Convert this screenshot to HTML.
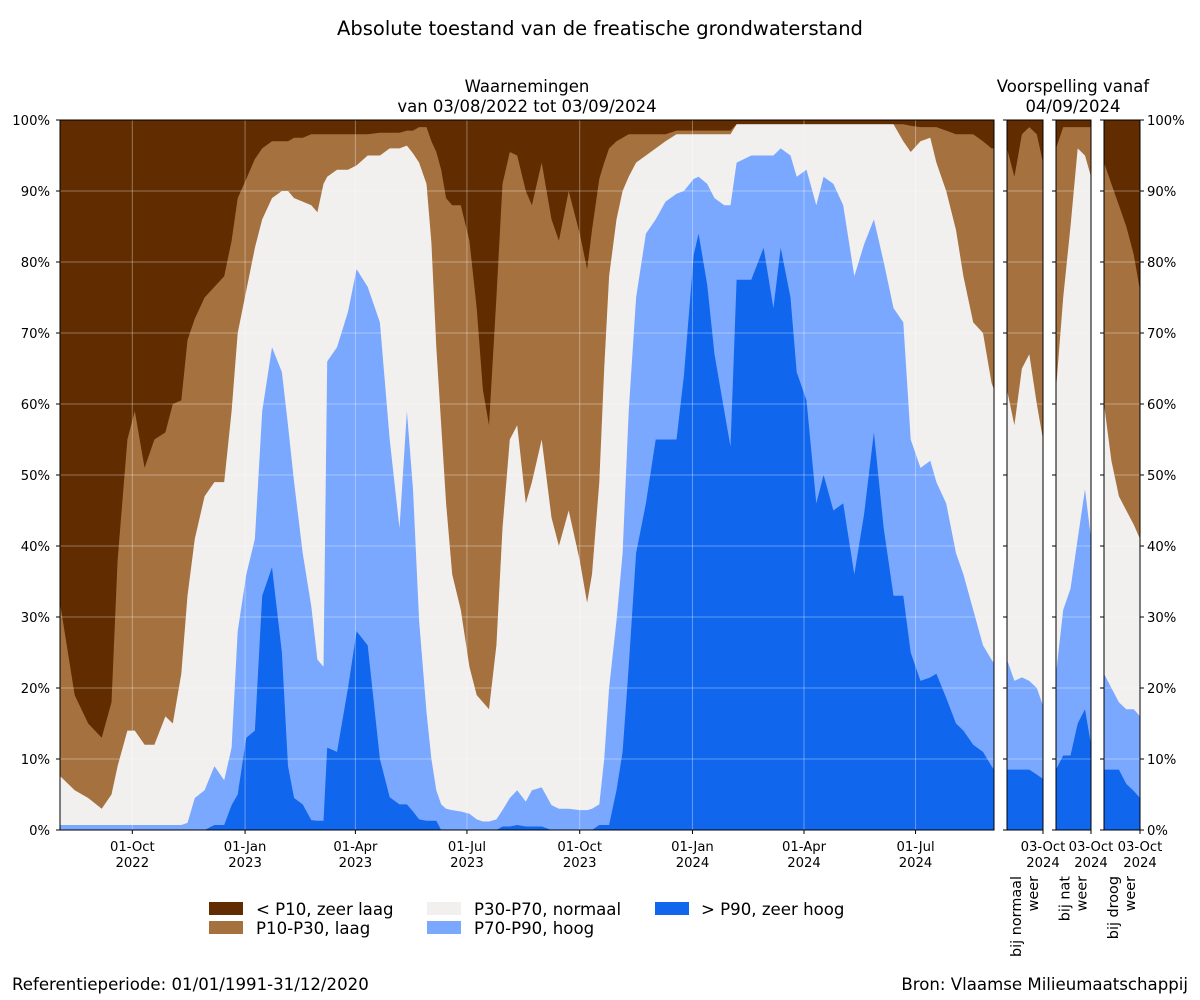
<!DOCTYPE html>
<html><head><meta charset="utf-8"><style>
body{margin:0;background:#fff;}
svg{display:block;font-family:"DejaVu Sans","Liberation Sans",sans-serif;}
</style></head><body>
<svg id="chart" width="1200" height="1000" viewBox="0 0 1200 1000" xmlns="http://www.w3.org/2000/svg">
<text x="600" y="35" font-size="19.5" text-anchor="middle">Absolute toestand van de freatische grondwaterstand</text>
<text x="527" y="92" font-size="16.5" text-anchor="middle">Waarnemingen</text>
<text x="527" y="112" font-size="16.5" text-anchor="middle">van 03/08/2022 tot 03/09/2024</text>
<text x="1073" y="92" font-size="16.5" text-anchor="middle">Voorspelling vanaf</text>
<text x="1073" y="112" font-size="16.5" text-anchor="middle">04/09/2024</text>
<g id="main"></g>
<g id="fc"></g>
<g font-size="16.6">
<rect x="209" y="902" width="34" height="13" fill="#602c00"/>
<text x="256" y="915">&lt; P10, zeer laag</text>
<rect x="209" y="921" width="34" height="13" fill="#a5713f"/>
<text x="256" y="934">P10-P30, laag</text>
<rect x="427" y="902" width="34" height="13" fill="#f2f0ee"/>
<text x="474" y="915">P30-P70, normaal</text>
<rect x="427" y="921" width="34" height="13" fill="#7aa8ff"/>
<text x="474" y="934">P70-P90, hoog</text>
<rect x="655" y="902" width="34" height="13" fill="#1166ee"/>
<text x="701" y="915">&gt; P90, zeer hoog</text>
</g>
<text x="12" y="990" font-size="16.6">Referentieperiode: 01/01/1991-31/12/2020</text>
<text x="1188" y="990" font-size="16.6" text-anchor="end">Bron: Vlaamse Milieumaatschappij</text>
</svg>
<script>
const days=[0,12,23,34,42,47,55,61,69,77,86,92,99,104,110,118,126,134,140,145,152,159,165,173,181,186,191,198,205,210,215,218,226,235,242,251,261,269,277,283,288,293,299,303,307,311,315,320,327,334,340,345,350,356,361,367,373,380,385,393,401,407,415,424,430,434,440,444,448,454,459,464,470,478,486,494,503,509,517,521,528,534,542,547,552,564,574,582,588,596,601,609,617,623,631,639,648,656,664,672,680,688,694,702,710,715,723,731,737,745,753,760,762];
const p90=[0,0,0,0,0,0,0,0,0,0,0,0,0,0,0,0,0.7,0.7,3.5,5,13,14,33,37,25,9,4.5,3.6,1.4,1.3,1.3,11.6,11,20,28,26,10,4.6,3.6,3.6,2.6,1.5,1.3,1.3,1.3,0,0,0,0,0,0,0,0,0,0.5,0.5,0.7,0.5,0.5,0.5,0,0,0,0,0,0,0.7,0.7,0.7,5.6,11,23,39,46,55,55,55,64,81,84,76.8,67,59,54,77.5,77.5,82,73.5,82,75,64.5,60.5,46,50,45,46,36,44.5,56,42.5,33,33,25,21,21.5,22,18.6,15,14,12,11,9,8.5];
const p70=[0.7,0.7,0.7,0.7,0.7,0.7,0.7,0.7,0.7,0.7,0.7,0.7,0.7,1,4.5,5.6,9,7,11.6,28,36,41,59,68,64.5,57,49,39,31.5,24,23,66,68,73,79,76.5,71.5,55,42.5,59,48,29.5,16.6,10,5.6,3.6,3,2.8,2.6,2.3,1.5,1.2,1.2,1.5,2.8,4.5,5.6,4,5.6,6,3.5,3,3,2.8,2.8,3,3.6,10,20,29.5,39,59,75,84,86,88.5,89.6,90,91.7,92,91,89,88,88,94,95,95,95,96,95,92,93,88,92,91,88,78,82.5,86,80,73.5,71.5,55,51,52,49,46,39,36,31,26,24,23.5];
const p30=[7.6,5.6,4.5,3,5,9,14,14,12,12,16,15,22,33,41,47,49,49,59,70,76,82,86,89,90,90,89,88.5,88,87,91,92,93,93,93.6,95,95,96,96,96.4,95.3,94,91,82.7,68,57,46,36,31,23,19,18,17,26,42.5,55,57,46,49,55,44,40,45,38,32,36,49,65,78,86,90,92,94,95,96,97,98,98,98,98,98,98,98,98,99.4,99.4,99.4,99.4,99.4,99.4,99.4,99.4,99.4,99.4,99.4,99.4,99.4,99.4,99.4,99.4,99.4,97,95.5,97,97.5,94,90,84.5,78,71.5,70,63,62];
const p10=[32,19,15,13,18,38,55,59,51,55,56,60,60.5,69,72,75,76.5,78,83,89,91.7,94.5,96,97,97,97,97.5,97.5,98,98,98,98,98,98,98,98,98.2,98.2,98.2,98.5,98.5,99,99,97,95.5,93,89,88,88,83,73.5,62,57,75,91,95.5,95,90,88,94,86,83,90,84,79,84.5,91.7,94,96,97,97.5,98,98,98,98,98,98.5,98.5,98.5,98.5,98.5,98.5,98.5,98.5,99.4,99.4,99.4,99.4,99.4,99.4,99.4,99.4,99.4,99.4,99.4,99.4,99.4,99.4,99.4,99.4,99.4,99.4,99.2,99,99,99,98.5,98,98,98,97,96,96];
const xTickDays=[59,151,241,332,424,516,607,698];
const xTickLabels=[["01-Oct","2022"],["01-Jan","2023"],["01-Apr","2023"],["01-Jul","2023"],["01-Oct","2023"],["01-Jan","2024"],["01-Apr","2024"],["01-Jul","2024"]];
const yTicks=[0,10,20,30,40,50,60,70,80,90,100];
// forecasts
const fcDays=[0,6,12,18,24,29];
const fcNames=["bij normaal weer","bij nat weer","bij droog weer"];
const fcP90=[[8.5,8.5,8.5,8.5,7.8,7.2],[8.5,10.5,10.5,15,17,12],[8.5,8.5,8.5,6.5,5.5,4.5]];
const fcP70=[[24,21,21.5,21,20,17.5],[22,31,34,41,48,41],[22,20,18,17,17,16]];
const fcP30=[[62,57,65,67,60,55],[62,75,85,96,95,92],[60,52,47,45,43,41]];
const fcP10=[[96,92,98,99,98,94],[96,99,99,99,99,99],[94,91,88,85,81,76]];

const NS="http://www.w3.org/2000/svg";
const Y0=830,Y1=120;
const yS=v=>Y0-(Y1-Y0)*-v/100;
function mk(tag,attrs,parent){const e=document.createElementNS(NS,tag);for(const k in attrs)e.setAttribute(k,attrs[k]);parent.appendChild(e);return e;}
const COLORS=["#602c00","#a5713f","#f2f0ee","#7aa8ff","#1166ee"];
const NAMES=["zeer-laag-area","laag-area","normaal-area","hoog-area","zeer-hoog-area"];
function drawPanel(g,x0,x1,dmax,ds,series,gridX,prefix){
  const xS=d=>x0+(x1-x0)*d/dmax;
  const bg=mk('rect',{x:x0,y:Y1,width:x1-x0,height:Y0-Y1,fill:COLORS[0]},g);
  
  
  series.forEach((s,i)=>{
    let d='M'+xS(ds[0])+','+Y0;
    for(let j=0;j<ds.length;j++){d+=' L'+xS(ds[j]).toFixed(1)+','+yS(s[j]).toFixed(1);}
    d+=' L'+xS(ds[ds.length-1])+','+Y0+' Z';
    const p=mk('path',{d:d,fill:COLORS[i+1]},g);
    
    
  });
  yTicks.forEach(t=>{if(t>0&&t<100){const l=mk('line',{x1:x0,x2:x1,y1:yS(t),y2:yS(t),stroke:'#fff','stroke-opacity':0.35,'stroke-width':1},g);
    }});
  gridX.forEach(d=>{const l=mk('line',{x1:xS(d),x2:xS(d),y1:Y1,y2:Y0,stroke:'#fff','stroke-opacity':0.35,'stroke-width':1},g);
    });
  const fr=mk('rect',{x:x0,y:Y1,width:x1-x0,height:Y0-Y1,fill:'none',stroke:'#000','stroke-width':1},g);
  
  yTicks.forEach(t=>{
    const a=mk('line',{x1:x0-4,x2:x0,y1:yS(t),y2:yS(t),stroke:'#000'},g);
    if(prefix==='forecast-3'){const b=mk('line',{x1:x1,x2:x1+4,y1:yS(t),y2:yS(t),stroke:'#000'},g);}
  });
  return xS;
}
const main=document.getElementById('main');
const xS=drawPanel(main,60,994,762,days,[p10,p30,p70,p90],xTickDays,'observed');
yTicks.forEach(t=>{const tx=mk('text',{x:50,y:yS(t)+5,'font-size':13.2,'text-anchor':'end'},main);tx.textContent=t+'%';
  });
xTickDays.forEach((d,i)=>{
  const l=mk('line',{x1:xS(d),x2:xS(d),y1:Y0,y2:Y0+4,stroke:'#000'},main);
  const t=mk('text',{x:xS(d),y:851,'font-size':13.2,'text-anchor':'middle'},main);t.textContent=xTickLabels[i][0];
  
  const t2=mk('text',{x:xS(d),y:867,'font-size':13.2,'text-anchor':'middle'},main);t2.textContent=xTickLabels[i][1];
  
});
const fc=document.getElementById('fc');
const px=[[1007,1043],[1056,1091],[1104,1140]];
fcNames.forEach((nm,i)=>{
  const g=mk('g',{},fc);
  const fx=drawPanel(g,px[i][0],px[i][1],29,fcDays,[fcP10[i],fcP30[i],fcP70[i],fcP90[i]],[],'forecast-'+(i+1));
  const xe=px[i][1];
  const l=mk('line',{x1:xe,x2:xe,y1:Y0,y2:Y0+4,stroke:'#000'},g);
  const t=mk('text',{x:xe,y:851,'font-size':13.2,'text-anchor':'middle'},g);t.textContent='03-Oct';
  const t2=mk('text',{x:xe,y:867,'font-size':13.2,'text-anchor':'middle'},g);t2.textContent='2024';
  const parts=nm.split(' ');const l1=parts.slice(0,2).join(' '),l2=parts[2];
  const cx=(px[i][0]+px[i][1])/2;
  const r1=mk('text',{x:0,y:0,'font-size':14.4,'text-anchor':'end',transform:'translate('+(cx-4)+',876) rotate(-90)'},g);r1.textContent=l1;
  
  const r2=mk('text',{x:0,y:0,'font-size':14.4,'text-anchor':'end',transform:'translate('+(cx+13)+',876) rotate(-90)'},g);r2.textContent=l2;
  
});
yTicks.forEach(t=>{const tx=mk('text',{x:1147,y:yS(t)+5,'font-size':13.2},fc);tx.textContent=t+'%';
  });
</script>
</body></html>
